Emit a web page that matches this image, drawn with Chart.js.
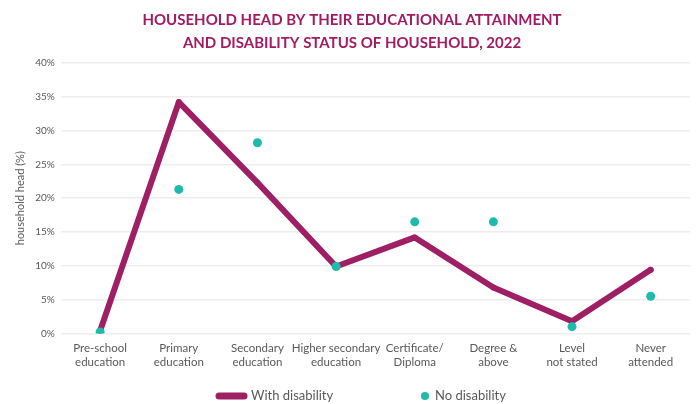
<!DOCTYPE html>
<html>
<head>
<meta charset="utf-8">
<script src="https://cdn.jsdelivr.net/npm/chart.js@4"></script>
<style>
  html, body { margin: 0; padding: 0; background: #fff; }
  #wrap { width: 700px; height: 404px; position: relative; }
</style>
</head>
<body>
<div id="wrap"><canvas id="chart"></canvas></div>
<script>
// Education levels (multi-line category labels)
const categories = [
  ["Pre-school", "education"],
  ["Primary", "education"],
  ["Secondary", "education"],
  ["Higher secondary", "education"],
  ["Certificate/", "Diploma"],
  ["Degree &", "above"],
  ["Level", "not stated"],
  ["Never", "attended"]
];

// Share of household heads (%)
const withDisability = [0.4, 34.2, 22.3, 9.9, 14.2, 6.8, 1.8, 9.4];
const noDisability   = [0.2, 21.3, 28.2, 9.9, 16.5, 16.5, 1.0, 5.5];

const yTicks = [0, 5, 10, 15, 20, 25, 30, 35, 40];

const MAGENTA = "#9E1F63";
const TEAL = "#1FBBAA";
const FONT = "Lato, 'Open Sans', sans-serif";

// Legend drawn beneath the plot: thick rounded bar for the line, dot for the points
const bottomLegend = {
  id: "bottomLegend",
  afterDraw(chart) {
    const ctx = chart.ctx;
    const y = 396;
    ctx.save();
    ctx.font = "13px " + FONT;
    ctx.fillStyle = "#595959";
    ctx.textBaseline = "middle";
    // line series
    ctx.strokeStyle = MAGENTA;
    ctx.lineWidth = 7;
    ctx.lineCap = "round";
    ctx.beginPath();
    ctx.moveTo(219, y);
    ctx.lineTo(244, y);
    ctx.stroke();
    ctx.fillText(chart.data.datasets[0].label, 251, y);
    // point series
    ctx.fillStyle = TEAL;
    ctx.beginPath();
    ctx.arc(425, y, 4, 0, Math.PI * 2);
    ctx.fill();
    ctx.fillStyle = "#595959";
    ctx.fillText(chart.data.datasets[1].label, 435, y);
    ctx.restore();
  }
};

new Chart(document.getElementById("chart"), {
  type: "line",
  data: {
    labels: categories,
    datasets: [
      {
        label: "With disability",
        data: withDisability,
        borderColor: MAGENTA,
        backgroundColor: MAGENTA,
        borderWidth: 6,
        borderCapStyle: "round",
        borderJoinStyle: "round",
        pointRadius: 3,
        pointBackgroundColor: MAGENTA,
        pointBorderWidth: 0,
        tension: 0,
        order: 2
      },
      {
        label: "No disability",
        data: noDisability,
        showLine: false,
        borderColor: TEAL,
        backgroundColor: TEAL,
        pointRadius: 4.5,
        pointBorderWidth: 0,
        pointBackgroundColor: TEAL,
        order: 1
      }
    ]
  },
  options: {
    responsive: true,
    maintainAspectRatio: false,
    animation: false,
    layout: { padding: { left: 14, right: 10, top: 0, bottom: 35 } },
    plugins: {
      legend: { display: false },
      tooltip: { enabled: false },
      title: {
        display: true,
        text: [
          "HOUSEHOLD HEAD BY THEIR EDUCATIONAL ATTAINMENT",
          "AND DISABILITY STATUS OF HOUSEHOLD, 2022"
        ],
        color: "#A21C63",
        font: { family: FONT, size: 15, weight: "bold", lineHeight: 1.5 },
        padding: { top: 9, bottom: 9 }
      }
    },
    scales: {
      x: {
        offset: true,
        grid: { display: false },
        border: { display: false },
        ticks: {
          color: "#595959",
          font: { family: FONT, size: 11.5 },
          maxRotation: 0,
          autoSkip: false,
          padding: 0
        }
      },
      y: {
        min: 0,
        max: 40,
        afterBuildTicks(axis) {
          axis.ticks = yTicks.map(v => ({ value: v }));
        },
        border: { display: false },
        grid: { color: "#EDEDED", lineWidth: 1.5, drawTicks: false },
        ticks: {
          color: "#595959",
          font: { family: FONT, size: 10 },
          padding: 6,
          callback: v => v + "%"
        },
        title: {
          display: true,
          text: "household head (%)",
          color: "#595959",
          font: { family: FONT, size: 11 },
          padding: { top: 0, bottom: 2 }
        }
      }
    }
  },
  plugins: [bottomLegend]
});
</script>
</body>
</html>
